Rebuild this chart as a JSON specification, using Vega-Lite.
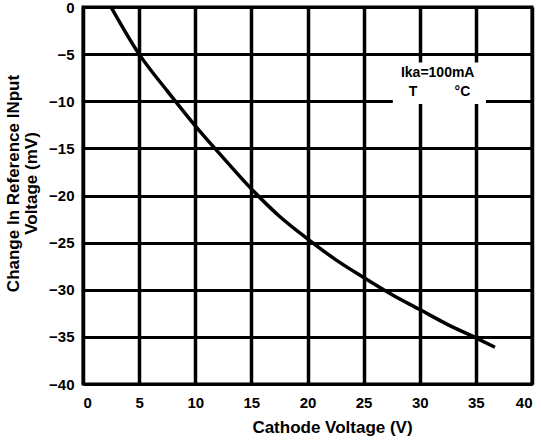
{
  "$schema": "https://vega.github.io/schema/vega-lite/v6.json",
  "width": 449,
  "height": 377,
  "autosize": {"type": "none"},
  "padding": {"left": 83, "top": 7, "right": 9, "bottom": 59},
  "background": "white",
  "config": {
    "view": {"stroke": "black", "strokeWidth": 3},
    "font": "Liberation Sans",
    "axis": {
      "domain": false,
      "ticks": false,
      "grid": true,
      "gridColor": "black",
      "gridOpacity": 1,
      "labelFont": "Liberation Sans",
      "labelFontWeight": "bold",
      "labelFontSize": 15,
      "labelColor": "black",
      "titleFont": "Liberation Sans",
      "titleFontWeight": "bold",
      "titleFontSize": 17,
      "titleColor": "black"
    },
    "axisX": {"gridWidth": 3.5, "labelPadding": 11, "titleX": 249, "titleY": 43, "titleBaseline": "middle", "titleAnchor": null},
    "axisY": {"gridWidth": 2.8, "labelPadding": 9, "titleX": -70, "titleY": 176, "titleAngle": -90, "titleAlign": "center", "titleBaseline": "middle", "titleLineHeight": 18}
  },
  "datasets": {
    "curve": [
      {"v": 2.5, "d": 0},
      {"v": 5, "d": -5},
      {"v": 7.5, "d": -8.9},
      {"v": 10, "d": -12.6},
      {"v": 12.5, "d": -16},
      {"v": 15, "d": -19.3},
      {"v": 17.5, "d": -22.2},
      {"v": 20, "d": -24.6},
      {"v": 22.5, "d": -26.8},
      {"v": 25, "d": -28.7},
      {"v": 27.5, "d": -30.5},
      {"v": 30, "d": -32.1},
      {"v": 32.5, "d": -33.7},
      {"v": 35, "d": -35.1},
      {"v": 36.7, "d": -36.1}
    ],
    "box": [{"v": 27.6, "v2": 35.9, "d": -5.9, "d2": -10.3}],
    "labels": [
      {"v": 31.6, "d": -7.0, "t": "Ika=100mA"},
      {"v": 29.4, "d": -9.0, "t": "T"},
      {"v": 33.8, "d": -9.0, "t": "°C"}
    ]
  },
  "layer": [
    {
      "data": {"name": "box"},
      "mark": {"type": "rect", "color": "white"},
      "encoding": {
        "x": {"field": "v", "type": "quantitative", "scale": {"domain": [0, 40]}, "axis": {"values": [0, 5, 10, 15, 20, 25, 30, 35, 40]}, "title": "Cathode Voltage (V)"},
        "x2": {"field": "v2"},
        "y": {"field": "d", "type": "quantitative", "scale": {"domain": [-40, 0]}, "axis": {"values": [0, -5, -10, -15, -20, -25, -30, -35, -40]}, "title": ["Change In Reference INput", "Voltage  (mV)"]},
        "y2": {"field": "d2"}
      }
    },
    {
      "data": {"name": "curve"},
      "mark": {"type": "line", "interpolate": "monotone", "color": "black", "strokeWidth": 3.5},
      "encoding": {
        "x": {"field": "v", "type": "quantitative", "title": "Cathode Voltage (V)"},
        "y": {"field": "d", "type": "quantitative", "title": ["Change In Reference INput", "Voltage  (mV)"]}
      }
    },
    {
      "data": {"name": "labels"},
      "mark": {"type": "text", "font": "Liberation Sans", "fontWeight": "bold", "fontSize": 14, "color": "black"},
      "encoding": {
        "x": {"field": "v", "type": "quantitative", "title": "Cathode Voltage (V)"},
        "y": {"field": "d", "type": "quantitative", "title": ["Change In Reference INput", "Voltage  (mV)"]},
        "text": {"field": "t"}
      }
    }
  ]
}
